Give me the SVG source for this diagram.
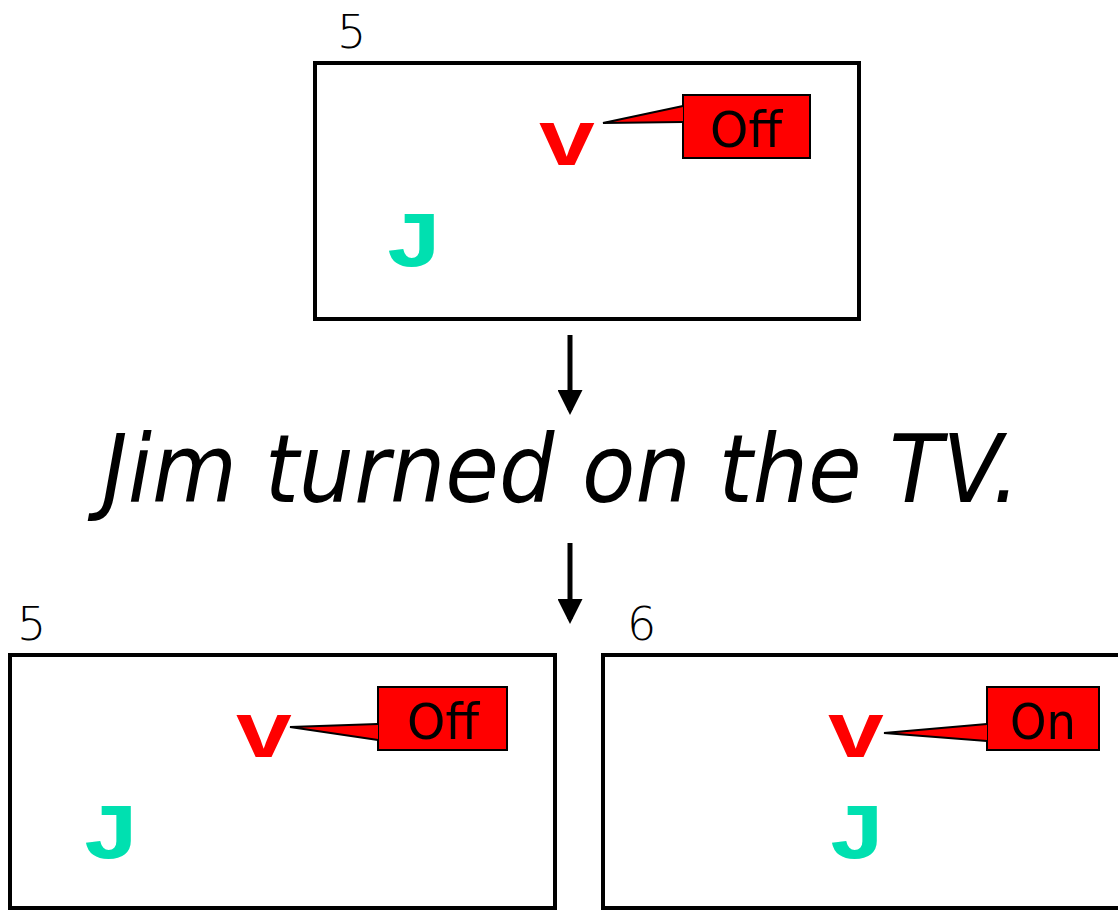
<svg xmlns="http://www.w3.org/2000/svg" width="1118" height="910" viewBox="0 0 1118 910">
<style>
.frame{fill:#fff;stroke:#000;stroke-width:4}
.num{font-family:"DejaVu Sans",sans-serif;font-weight:200;font-size:46px;fill:#000}
.v{font-family:"Liberation Mono",monospace;font-weight:bold;font-size:80px;fill:#ff0000;text-anchor:middle}
.j{font-family:"Liberation Mono",monospace;font-weight:bold;font-size:80px;fill:#00e0b0;text-anchor:middle}
.call{fill:#ff0000;stroke:#000;stroke-width:2;stroke-linejoin:miter}
.ctext{font-family:"DejaVu Sans",sans-serif;font-size:50px;fill:#000;text-anchor:middle}
.big{font-family:"DejaVu Sans",sans-serif;font-style:italic;font-size:94px;fill:#000}
.conn{stroke:#000;stroke-width:5;fill:none}
</style>
<defs>
<marker id="ah" markerWidth="5" markerHeight="5" refX="4" refY="2.5" orient="auto" markerUnits="strokeWidth">
<path d="M0,0 L5,2.5 L0,5 Z" fill="#000"/>
</marker>
</defs>

<g id="state-top">
<text class="num" x="337" y="48">5</text>
<rect class="frame" x="315" y="63" width="544" height="256"/>
<text class="v" x="567" y="165" textLength="58" lengthAdjust="spacingAndGlyphs">v</text>
<text class="j" x="414" y="266" textLength="60" lengthAdjust="spacingAndGlyphs">J</text>
<g id="callout-top">
<rect class="call" x="683" y="95" width="127" height="63"/>
<path class="call" d="M683,106 L603,123 L683,122"/>
<rect x="684.5" y="107" width="4" height="14" fill="#ff0000"/>
<text class="ctext" x="746" y="147" textLength="72" lengthAdjust="spacingAndGlyphs">Off</text>
</g>
</g>

<g id="sentence">
<text class="big" x="102" y="502" textLength="918" lengthAdjust="spacingAndGlyphs">Jim turned on the TV.</text>
</g>

<g id="state-left">
<text class="num" x="17" y="640">5</text>
<rect class="frame" x="10" y="655" width="545" height="253"/>
<text class="v" x="264" y="757" textLength="58" lengthAdjust="spacingAndGlyphs">v</text>
<text class="j" x="111" y="858" textLength="60" lengthAdjust="spacingAndGlyphs">J</text>
<g id="callout-left">
<rect class="call" x="378" y="687" width="129" height="63"/>
<path class="call" d="M378,724 L290,727 L378,740"/>
<rect x="379.5" y="725" width="4" height="14" fill="#ff0000"/>
<text class="ctext" x="443" y="739" textLength="72" lengthAdjust="spacingAndGlyphs">Off</text>
</g>
</g>

<g id="state-right">
<text class="num" x="627" y="640">6</text>
<rect class="frame" x="603" y="655" width="530" height="253"/>
<text class="v" x="856" y="757" textLength="58" lengthAdjust="spacingAndGlyphs">v</text>
<text class="j" x="857" y="858" textLength="60" lengthAdjust="spacingAndGlyphs">J</text>
<g id="callout-right">
<rect class="call" x="987" y="687" width="112" height="63"/>
<path class="call" d="M987,724 L884,733 L987,741"/>
<rect x="988.5" y="725" width="4" height="15" fill="#ff0000"/>
<text class="ctext" x="1043" y="739" textLength="66" lengthAdjust="spacingAndGlyphs">On</text>
</g>
</g>

<g id="connectors">
<line class="conn" x1="570" y1="335" x2="570" y2="410" marker-end="url(#ah)"/>
<line class="conn" x1="570" y1="543" x2="570" y2="619" marker-end="url(#ah)"/>
</g>
</svg>
